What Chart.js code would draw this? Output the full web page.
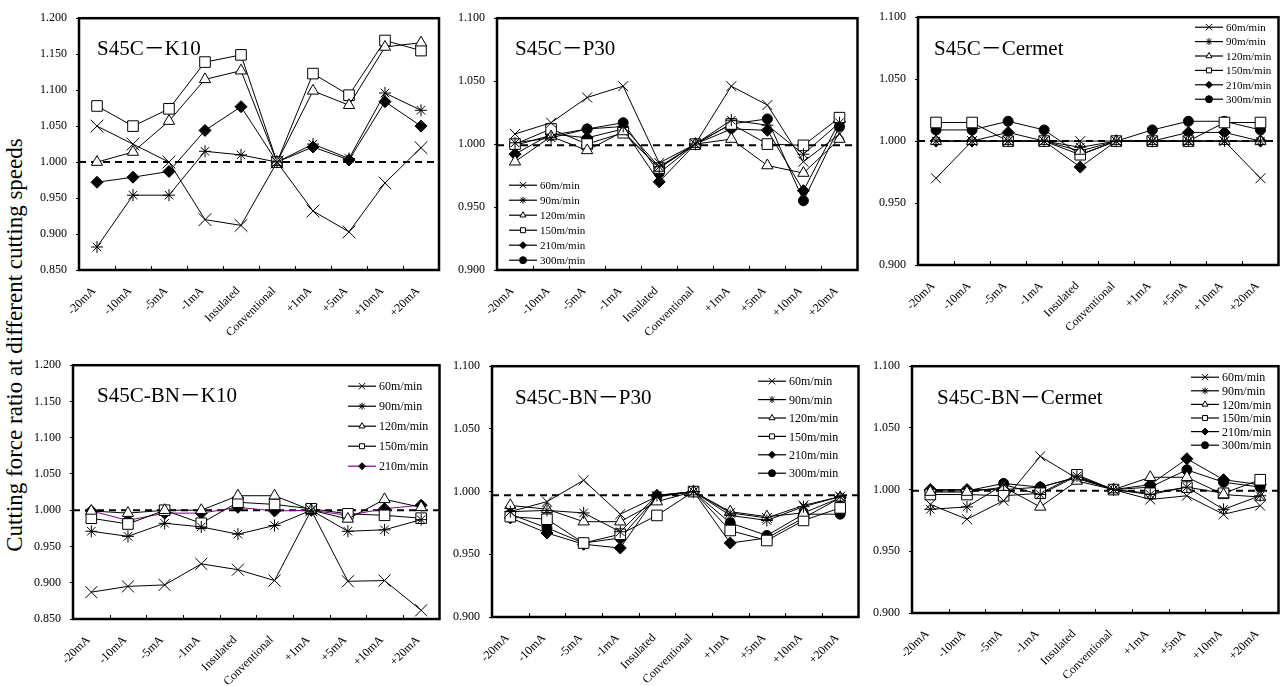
<!DOCTYPE html>
<html>
<head>
<meta charset="utf-8">
<script src="https://cdn.jsdelivr.net/npm/chart.js@4.4.1/dist/chart.umd.min.js"></script>
<style>
  body { margin: 0; background: #fff; width: 1288px; height: 686px; position: relative; overflow: hidden; }
  canvas { position: absolute; }
  #ytitle {
    position: absolute; left: 15px; top: 345px;
    transform: translate(-50%, -50%) rotate(-90deg);
    white-space: nowrap; font: 23px 'Liberation Serif', serif; color: #000;
  }
</style>
</head>
<body>
<div id="ytitle">Cutting force ratio at different cutting speeds</div>
<canvas id="c1"></canvas>
<canvas id="c2"></canvas>
<canvas id="c3"></canvas>
<canvas id="c4"></canvas>
<canvas id="c5"></canvas>
<canvas id="c6"></canvas>
<script>
const categories = ['-20mA', '-10mA', '-5mA', '-1mA', 'Insulated', 'Conventional', '+1mA', '+5mA', '+10mA', '+20mA'];
const speeds = ['60m/min', '90m/min', '120m/min', '150m/min', '210m/min', '300m/min'];

// S45C－K10
const k10_60  = [1.050, 1.025, 1.000, 0.920, 0.912, 1.000, 0.932, 0.903, 0.971, 1.020];
const k10_90  = [0.882, 0.954, 0.954, 1.015, 1.010, 1.000, 1.025, 1.005, 1.096, 1.072];
const k10_120 = [1.000, 1.014, 1.057, 1.115, 1.127, 1.000, 1.099, 1.079, 1.160, 1.166];
const k10_150 = [1.078, 1.050, 1.074, 1.139, 1.149, 1.000, 1.123, 1.093, 1.169, 1.155];
const k10_210 = [0.972, 0.979, 0.987, 1.044, 1.077, 1.000, 1.021, 1.003, 1.084, 1.050];

// S45C－P30
const p30_60  = [1.008, 1.017, 1.037, 1.046, 0.985, 1.000, 1.046, 1.031, 0.986, 1.008];
const p30_90  = [1.001, 1.005, 1.012, 1.014, 0.982, 1.000, 1.019, 1.015, 0.992, 1.017];
const p30_120 = [0.986, 1.006, 0.995, 1.010, 0.981, 1.000, 1.004, 0.983, 0.977, 1.004];
const p30_150 = [1.000, 1.012, 1.000, 1.009, 0.981, 1.000, 1.016, 1.000, 0.999, 1.021];
const p30_210 = [0.992, 1.008, 1.005, 1.012, 0.970, 1.000, 1.012, 1.011, 0.963, 1.018];
const p30_300 = [0.999, 1.007, 1.012, 1.017, 0.977, 1.000, 1.016, 1.020, 0.955, 1.014];

// S45C－Cermet
const cer_60  = [0.970, 1.000, 1.000, 1.000, 1.000, 1.000, 1.000, 1.000, 1.000, 0.970];
const cer_90  = [1.000, 1.000, 1.000, 1.000, 0.995, 1.000, 1.000, 1.000, 1.000, 1.000];
const cer_120 = [1.000, 1.000, 1.000, 1.000, 0.992, 1.000, 1.000, 1.000, 1.000, 1.000];
const cer_150 = [1.015, 1.015, 1.000, 1.000, 0.989, 1.000, 1.000, 1.000, 1.015, 1.015];
const cer_210 = [1.000, 1.000, 1.007, 1.000, 0.979, 1.000, 1.000, 1.007, 1.007, 1.000];
const cer_300 = [1.009, 1.009, 1.016, 1.009, 0.989, 1.000, 1.009, 1.016, 1.016, 1.009];

// S45C-BN－K10
const bnk10_60  = [0.887, 0.895, 0.897, 0.926, 0.918, 0.903, 1.000, 0.902, 0.903, 0.862];
const bnk10_90  = [0.971, 0.964, 0.982, 0.977, 0.967, 0.979, 1.000, 0.971, 0.973, 0.987];
const bnk10_120 = [0.999, 0.996, 1.000, 1.000, 1.020, 1.020, 1.000, 0.988, 1.015, 1.004];
const bnk10_150 = [0.989, 0.981, 1.000, 0.982, 1.011, 1.008, 1.002, 0.995, 0.993, 0.989];
const bnk10_210 = [0.999, 0.986, 0.996, 0.996, 1.004, 0.999, 1.000, 0.993, 1.002, 1.007];

// S45C-BN－P30
const bnp30_60  = [0.984, 0.992, 1.009, 0.982, 0.996, 1.000, 0.983, 0.979, 0.989, 0.996];
const bnp30_90  = [0.984, 0.985, 0.983, 0.968, 0.997, 1.000, 0.981, 0.977, 0.988, 0.996];
const bnp30_120 = [0.989, 0.986, 0.976, 0.976, 0.992, 1.000, 0.984, 0.980, 0.983, 0.995];
const bnp30_150 = [0.980, 0.978, 0.959, 0.966, 0.981, 1.000, 0.969, 0.961, 0.977, 0.987];
const bnp30_210 = [0.979, 0.967, 0.958, 0.955, 0.997, 1.000, 0.959, 0.963, 0.979, 0.995];
const bnp30_300 = [0.982, 0.971, 0.959, 0.963, 0.996, 1.000, 0.975, 0.965, 0.982, 0.982];

// S45C-BN－Cermet
const bncer_60  = [0.988, 0.976, 0.991, 1.027, 1.009, 1.000, 0.992, 0.995, 0.980, 0.987];
const bncer_90  = [0.984, 0.986, 1.004, 0.996, 1.011, 1.000, 0.996, 1.002, 0.984, 0.995];
const bncer_120 = [0.998, 0.998, 1.002, 0.986, 1.007, 1.000, 1.010, 1.010, 0.996, 0.994];
const bncer_150 = [0.996, 0.996, 0.995, 0.997, 1.012, 1.000, 0.997, 1.002, 0.997, 1.008];
const bncer_210 = [1.000, 1.000, 1.000, 1.002, 1.010, 1.000, 1.004, 1.025, 1.008, 1.004];
const bncer_300 = [0.999, 0.999, 1.005, 1.002, 1.010, 1.000, 1.002, 1.016, 1.006, 1.002];

// y tick ranges
const wideTicks = [0.85, 1.20];
const narrowTicks = [0.90, 1.10];

const serif = "'Liberation Serif', 'Times New Roman', 'Noto Sans CJK JP', serif";
Chart.defaults.font.family = serif;
Chart.defaults.color = '#000';

const markerStyle = ['crossRot', 'star', 'triangle', 'rect', 'rectRot', 'circle'];
const markerFill = ['#000', '#000', '#fff', '#fff', '#000', '#000'];
const markerSize = [7, 6, 6.5, 7.5, 6, 5];

// frame, dashed 1.000 line, inner x ticks, panel title and the legend inside the plot
const panelDeco = {
  id: 'panelDeco',
  beforeDatasetsDraw(chart, args, o) {
    const { ctx, chartArea: a, scales: { y } } = chart;
    const py = y.getPixelForValue(o.ref);
    ctx.save();
    ctx.strokeStyle = '#000';
    ctx.lineWidth = 2;
    ctx.setLineDash([7, 5]);
    ctx.beginPath();
    ctx.moveTo(a.left, py);
    ctx.lineTo(a.right, py);
    ctx.stroke();
    ctx.restore();
  },
  afterDraw(chart, args, o) {
    const { ctx, chartArea: a, scales: { x } } = chart;
    ctx.save();
    ctx.strokeStyle = '#000';
    ctx.lineWidth = 1;
    for (let i = 1; i < categories.length; i++) {
      const px = Math.round((x.getPixelForValue(i - 1) + x.getPixelForValue(i)) / 2) + 0.5;
      ctx.beginPath();
      ctx.moveTo(px, a.bottom);
      ctx.lineTo(px, a.bottom - 4);
      ctx.stroke();
    }
    ctx.lineWidth = 2.5;
    ctx.strokeRect(a.left, a.top, a.right - a.left, a.bottom - a.top);

    ctx.fillStyle = '#000';
    ctx.font = '21px ' + serif;
    ctx.textBaseline = 'alphabetic';
    ctx.fillText(o.title, a.left + o.titleX, a.top + o.titleY);

    if (o.legend) {
      const L = o.legend;
      ctx.font = L.font + 'px ' + serif;
      ctx.textBaseline = 'middle';
      chart.data.datasets.forEach((ds, i) => {
        const lx = a.left + L.x;
        const ly = a.top + L.y + i * L.dy;
        ctx.strokeStyle = ds.borderColor;
        ctx.lineWidth = 1.2;
        ctx.beginPath();
        ctx.moveTo(lx, ly);
        ctx.lineTo(lx + 28, ly);
        ctx.stroke();
        ctx.strokeStyle = '#000';
        ctx.fillStyle = ds.pointBackgroundColor;
        ctx.lineWidth = 1;
        Chart.helpers.drawPoint(ctx, {
          pointStyle: ds.pointStyle, rotation: 0,
          radius: ds.pointStyle === 'crossRot' ? 4.5 : 3.5, borderWidth: 1
        }, lx + 14, ly);
        ctx.fillStyle = '#000';
        ctx.fillText(speeds[i], lx + 31, ly + 1);
      });
    }
    ctx.restore();
  }
};

function buildPanel(id, plot, series, range, deco, opts) {
  const cv = document.getElementById(id);
  const yW = 52, padT = 14, padR = 4, xH = 68;
  const left = plot.l - yW, top = plot.t - padT;
  cv.style.left = left + 'px';
  cv.style.top = top + 'px';
  cv.width = plot.r + padR - left;
  cv.height = plot.b + xH - top;

  const datasets = series.map((data, i) => ({
    label: speeds[i],
    data: data,
    borderColor: (opts.lineColors && opts.lineColors[i]) || '#000',
    borderWidth: 1,
    pointStyle: markerStyle[i],
    pointRadius: i === 0 ? opts.crossSize : markerSize[i],
    pointBackgroundColor: markerFill[i],
    pointBorderColor: '#000',
    pointBorderWidth: 1,
    tension: 0,
    clip: false
  }));

  return new Chart(cv.getContext('2d'), {
    type: 'line',
    data: { labels: categories, datasets: datasets },
    options: {
      responsive: false,
      animation: false,
      devicePixelRatio: 1,
      layout: { padding: { top: padT, right: padR, left: 0, bottom: 0 } },
      plugins: {
        legend: { display: false },
        tooltip: { enabled: false },
        panelDeco: deco
      },
      scales: {
        x: {
          type: 'category',
          offset: true,
          grid: { display: false },
          border: { display: false },
          ticks: {
            autoSkip: false, minRotation: 45, maxRotation: 45,
            font: { size: 12 }, padding: 6, labelOffset: -3, color: '#000'
          },
          afterFit: (s) => { s.height = xH; }
        },
        y: {
          min: range[0], max: range[1],
          grid: { display: true, drawOnChartArea: false, tickLength: 3, color: '#000' },
          border: { display: false },
          ticks: {
            stepSize: 0.05, font: { size: 12 }, padding: 9, color: '#000',
            callback: (v) => v.toFixed(3)
          },
          afterFit: (s) => { s.width = yW; }
        }
      }
    },
    plugins: [panelDeco]
  });
}

buildPanel('c1', { l: 79, t: 16, r: 445, b: 270 },
  [k10_60, k10_90, k10_120, k10_150, k10_210], wideTicks,
  { ref: 1.000, title: 'S45C－K10', titleX: 18, titleY: 37 },
  { crossSize: 9 });

buildPanel('c2', { l: 497, t: 16, r: 862, b: 270 },
  [p30_60, p30_90, p30_120, p30_150, p30_210, p30_300], narrowTicks,
  { ref: 0.999, title: 'S45C－P30', titleX: 18, titleY: 37,
    legend: { x: 12, y: 167, dy: 15, font: 11 } },
  { crossSize: 7 });

buildPanel('c3', { l: 918, t: 15, r: 1283, b: 265 },
  [cer_60, cer_90, cer_120, cer_150, cer_210, cer_300], narrowTicks,
  { ref: 1.000, title: 'S45C－Cermet', titleX: 16, titleY: 38,
    legend: { x: 277, y: 10, dy: 14.4, font: 11 } },
  { crossSize: 7 });

buildPanel('c4', { l: 73, t: 363, r: 445, b: 619 },
  [bnk10_60, bnk10_90, bnk10_120, bnk10_150, bnk10_210], wideTicks,
  { ref: 1.000, title: 'S45C-BN－K10', titleX: 24, titleY: 37,
    legend: { x: 275, y: 21, dy: 20, font: 12 } },
  { crossSize: 8.5, lineColors: ['#000', '#000', '#000', '#000', '#800080'] });

buildPanel('c5', { l: 492, t: 364, r: 863, b: 617 },
  [bnp30_60, bnp30_90, bnp30_120, bnp30_150, bnp30_210, bnp30_300], narrowTicks,
  { ref: 0.997, title: 'S45C-BN－P30', titleX: 23, titleY: 38,
    legend: { x: 266, y: 15, dy: 18.4, font: 12 } },
  { crossSize: 7 });

buildPanel('c6', { l: 912, t: 364, r: 1283, b: 613 },
  [bncer_60, bncer_90, bncer_120, bncer_150, bncer_210, bncer_300], narrowTicks,
  { ref: 0.999, title: 'S45C-BN－Cermet', titleX: 25, titleY: 38,
    legend: { x: 279, y: 11, dy: 13.6, font: 12 } },
  { crossSize: 7 });
</script>
</body>
</html>
